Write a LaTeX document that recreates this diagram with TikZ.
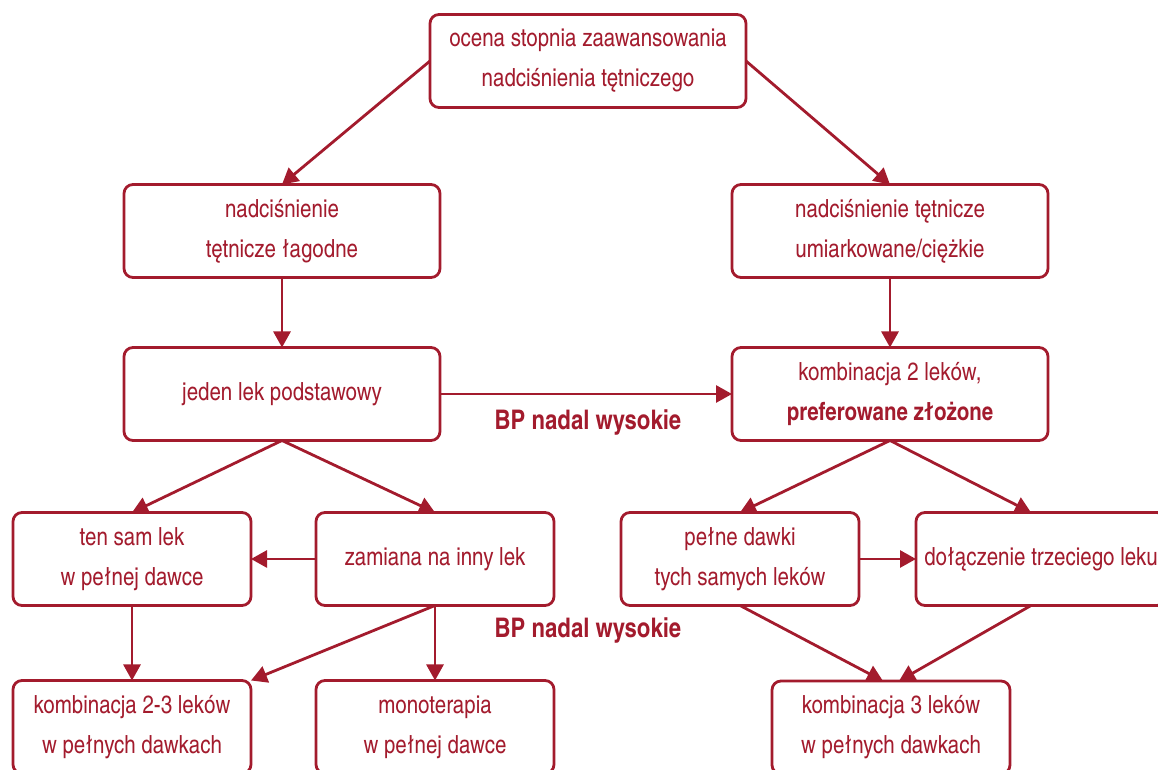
\documentclass[tikz,border=0pt]{standalone}
\usepackage{fontspec}
\setmainfont{TeX Gyre Heros Cn}
\usepackage{tikz}
\usetikzlibrary{arrows.meta, positioning}

\definecolor{bpred}{RGB}{163,27,45}

\begin{document}
\begin{tikzpicture}[
  x=1pt, y=1pt,
  every node/.style={font=\fontsize{25}{40}\selectfont, text=bpred},
  box/.style={rectangle, rounded corners=9pt, draw=bpred, fill=white,
              line width=2.8pt, minimum width=316pt, minimum height=93pt,
              align=center, inner sep=4pt, outer sep=0pt},
  small/.style={box, minimum width=238pt},
  note/.style={font=\fontsize{27}{30}\selectfont\bfseries},
  arr/.style={-{Triangle[length=16pt, width=17pt]}, line width=2.8pt, draw=bpred},
  node distance=70pt and 65pt
]
\clip (0,0) rectangle (1158,770);

% --- Top ---
\node[box] (ocena) at (588,709) {ocena stopnia zaawansowania\\nadciśnienia tętniczego};

% --- Two branches ---
\node[box] (lagodne) at (282,539) {nadciśnienie\\tętnicze łagodne};
\node[box] (ciezkie) at (890,539) {nadciśnienie tętnicze\\umiarkowane/ciężkie};

\node[box, below=of lagodne] (jeden) {jeden lek podstawowy};
\node[box, below=of ciezkie] (kombi) {kombinacja 2 leków,\\\textbf{preferowane złożone}};

\node[note] (bp1) at (588,348) {BP nadal wysokie};

% --- Left subtree ---
\node[small] (tensam) at (132,211) {ten sam lek\\w pełnej dawce};
\node[small, right=of tensam] (zamiana) {zamiana na inny lek};

\node[small, below=75pt of tensam]  (komb23) {kombinacja 2-3 leków\\w pełnych dawkach};
\node[small, below=75pt of zamiana] (mono)   {monoterapia\\w pełnej dawce};

\node[note] (bp2) at (588,140) {BP nadal wysokie};

% --- Right subtree ---
\node[small] (pelne) at (740,211) {pełne dawki\\tych samych leków};
\node[small, minimum width=250pt, right=57pt of pelne] (trzeci) {dołączenie trzeciego leku};

\node[small] (komb3) at (891,42.5) {kombinacja 3 leków\\w pełnych dawkach};

% --- Arrows ---
\draw[arr] (ocena.west)  -- (lagodne.north);
\draw[arr] (ocena.east)  -- (ciezkie.north);
\draw[arr] (lagodne) -- (jeden);
\draw[arr] (ciezkie) -- (kombi);
\draw[arr] (jeden)   -- (kombi);
\draw[arr] (jeden.south) -- (tensam.north);
\draw[arr] (jeden.south) -- (zamiana.north);
\draw[arr] (kombi.south) -- (pelne.north);
\draw[arr] (kombi.south) -- ([xshift=-10pt]trzeci.north);
\draw[arr] (zamiana) -- (tensam);
\draw[arr] (pelne)   -- (trzeci);
\draw[arr] (tensam)  -- (komb23);
\draw[arr] (zamiana.south) -- (komb23.north east);
\draw[arr] (zamiana.south) -- (mono.north);
\draw[arr] (pelne.south)   -- ([xshift=-8pt]komb3.north);
\draw[arr] ([xshift=-10pt]trzeci.south) -- ([xshift=8pt]komb3.north);

\end{tikzpicture}
\end{document}
